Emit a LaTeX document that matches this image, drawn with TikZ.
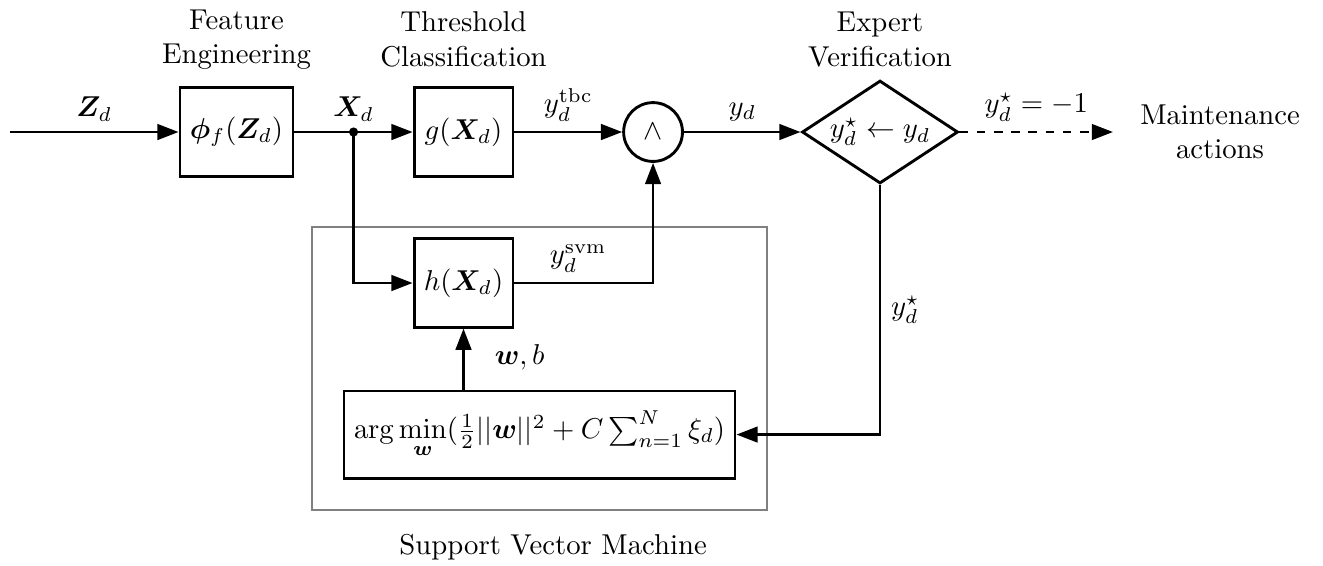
\documentclass[tikz,border=0pt]{standalone}
\usepackage{amsmath, amssymb}
\usepackage{bm}
\usepackage{tikz}
\usetikzlibrary{arrows.meta, positioning, shapes.geometric, calc}

\begin{document}
\begin{tikzpicture}[
    bloc/.style={rectangle, draw, line width=1pt, minimum width=1.21cm,
                 minimum height=1.08cm, inner sep=2pt},
    porte/.style={circle, draw, line width=1pt, minimum size=0.72cm, inner sep=0pt},
    decision/.style={diamond, draw, line width=1pt, aspect=1.5, inner sep=0pt,
                     minimum width=1.91cm, minimum height=1.26cm},
    fleche/.style={-{Triangle[length=2.6mm, width=1.9mm]}, line width=1pt},
    pointille/.style={-{Triangle[length=2.6mm, width=1.9mm]}, line width=1pt, dashed},
    titre/.style={align=center}
  ]
    \useasboundingbox (0,1.616) rectangle (16.193,-5.300);

    % Noeuds
    \coordinate (entree) at (0.122,0);
    \node[bloc, minimum width=1.383cm] (phi) at (2.895,0) {$\bm{\phi}_f(\bm{Z}_d)$};
    \node[bloc] (g) at (5.673,0) {$g(\bm{X}_d)$};
    \node[porte] (et) at (7.993,0) {$\wedge$};
    \node[decision] (verif) at (10.771,0) {$y_d^\star \leftarrow y_d$};
    \coordinate (sortie) at (13.623,0);
    \node[titre] (maint) at (14.933,0) {Maintenance\\actions};
    \node[bloc] (h) at (5.673,-1.848) {$h(\bm{X}_d)$};
    \node[bloc, minimum width=4.786cm, minimum height=1.065cm] (opt) at (6.603,-3.703)
      {$\arg\min\limits_{\bm{w}}(\tfrac{1}{2}||\bm{w}||^2 + C\sum_{n=1}^{N}\xi_d)$};

    % Titres des blocs
    \node[titre] (tfeat) at (2.895,1.132) {Feature\\Engineering};
    \node[titre] (tseuil) at (5.673,1.132) {Threshold\\Classification};
    \node[titre] (texpert) at (10.771,1.132) {Expert\\Verification};

    % Cadre SVM
    \draw[gray, thick] (3.819,-1.163) rectangle (9.388,-4.627);
    \node (tsvm) at (6.77,-5.08) {Support Vector Machine};

    % Chaine principale
    \coordinate (jonction) at ($(phi.east)!0.5!(g.west)$);
    \draw[fleche] (entree) -- node[above] {$\bm{Z}_d$} (phi);
    \draw[fleche] (phi) -- node[above] {$\bm{X}_d$} (g);
    \fill (jonction) circle (1.6pt);
    \draw[fleche] (g) -- node[above] {$y_d^{\text{tbc}}$} (et);
    \draw[fleche] (et) -- node[above] {$y_d$} (verif);
    \draw[pointille] (verif) -- node[above] {$y_d^\star = -1$} (sortie);

    % Branche SVM
    \draw[fleche] (jonction) |- (h);
    \draw[fleche] (h) -| node[above, pos=0.23] {$y_d^{\text{svm}}$} (et);
    \draw[fleche] (h.south |- opt.north) -- (h);
    \node (wb) at (6.36,-2.754) {$\bm{w}, b$};

    % Retour de l'expert
    \draw[fleche] (verif.south) |- node[right, pos=0.25] {$y_d^\star$} (opt);
  \end{tikzpicture}
\end{document}
